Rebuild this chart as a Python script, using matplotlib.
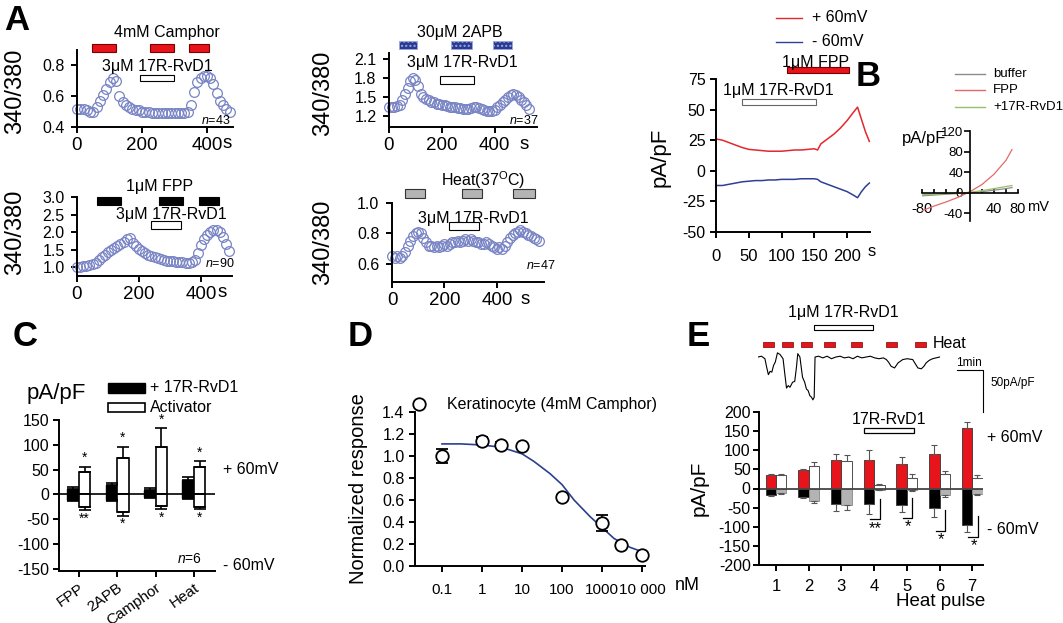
import numpy as np
import matplotlib.pyplot as plt
from matplotlib.patches import Rectangle
from matplotlib.lines import Line2D
from matplotlib.ticker import FormatStrFormatter

plt.rcParams['font.family'] = ['Liberation Sans', 'DejaVu Sans']
plt.rcParams['mathtext.fontset'] = 'custom'
plt.rcParams['mathtext.rm'] = 'Liberation Sans'
plt.rcParams['mathtext.it'] = 'Liberation Sans:italic'
plt.rcParams['axes.unicode_minus'] = False

W, H = 1063, 623

# ---------------- data ----------------
# A: 340/380 ratio traces, one sample every 10 s
a1_ratio = [0.52, 0.52, 0.52, 0.51, 0.50, 0.50, 0.53, 0.57, 0.61, 0.65,
            0.69, 0.72, 0.70, 0.60, 0.56, 0.54, 0.53, 0.52, 0.51, 0.51,
            0.50, 0.50, 0.50, 0.49, 0.49, 0.49, 0.49, 0.49, 0.49, 0.49,
            0.49, 0.49, 0.49, 0.49, 0.50, 0.54, 0.63, 0.69, 0.72, 0.73,
            0.73, 0.72, 0.68, 0.62, 0.57, 0.54, 0.52, 0.50]
a2_ratio = [1.35, 1.34, 1.35, 1.36, 1.38, 1.45, 1.55, 1.65, 1.75, 1.80,
            1.78, 1.68, 1.55, 1.50, 1.47, 1.45, 1.43, 1.42, 1.40, 1.39,
            1.38, 1.37, 1.36, 1.35, 1.34, 1.34, 1.33, 1.33, 1.32, 1.32,
            1.32, 1.33, 1.34, 1.35, 1.33, 1.31, 1.30, 1.29, 1.28, 1.28,
            1.30, 1.34, 1.38, 1.42, 1.46, 1.50, 1.53, 1.55, 1.53, 1.50,
            1.46, 1.42, 1.37, 1.32]
a3_ratio = [1.02, 1.02, 1.03, 1.04, 1.06, 1.09, 1.13, 1.20, 1.28, 1.35,
            1.42, 1.48, 1.54, 1.60, 1.65, 1.72, 1.80, 1.82, 1.70, 1.60,
            1.52, 1.46, 1.40, 1.35, 1.31, 1.28, 1.25, 1.23, 1.21, 1.19,
            1.18, 1.17, 1.16, 1.15, 1.14, 1.13, 1.13, 1.14, 1.20, 1.40,
            1.62, 1.80, 1.92, 2.00, 2.05, 2.05, 2.00, 1.85, 1.65, 1.45]
a4_ratio = [0.65, 0.64, 0.65, 0.64, 0.65, 0.68, 0.72, 0.75, 0.78, 0.80,
            0.81, 0.80, 0.77, 0.74, 0.72, 0.72, 0.71, 0.72, 0.71, 0.72,
            0.73, 0.72, 0.73, 0.74, 0.74, 0.75, 0.74, 0.75, 0.76, 0.75,
            0.76, 0.75, 0.74, 0.74, 0.73, 0.73, 0.74, 0.73, 0.72, 0.71,
            0.70, 0.71, 0.70, 0.72, 0.74, 0.77, 0.79, 0.80, 0.81, 0.82,
            0.81, 0.80, 0.79, 0.78, 0.77, 0.76, 0.75]
a1_stim = [(45, 121), (224, 297), (345, 406)]   # camphor
a2_stim = [(38, 105), (234, 313), (392, 464)]   # 2APB
a3_stim = [(65, 142), (265, 342), (394, 458)]   # FPP
a4_stim = [(50, 126), (267, 343), (461, 545)]   # heat
a1_rvd, a2_rvd, a3_rvd, a4_rvd = (194, 297), (192, 321), (238, 335), (217, 331)

# B: whole-cell current at +/-60 mV
b_t = [0, 10, 20, 30, 40, 50, 60, 70, 80, 90, 100, 110, 120, 130, 140, 150,
       155, 160, 170, 180, 190, 200, 210, 216, 222, 228, 234]
b_pos = [26, 25, 23, 21, 19, 17.5, 17, 16.5, 16, 16, 16, 16.5, 17, 17, 17.5, 18,
         17, 22, 26, 30, 35, 41, 48, 52, 42, 32, 24]
b_neg = [-12, -12, -11, -10, -9, -8.5, -8, -8, -7.5, -7.5, -7, -7, -7, -6.5, -6.5, -6.5,
         -7, -9, -11, -13, -15, -17, -20, -22, -17, -13, -10]
b_fpp, b_rvd = (108, 203), (40, 153)
# B inset: I-V curves
iv_mv = [-80, -60, -40, -20, 0, 20, 40, 60, 70]
iv_buffer = [-6, -4.5, -3, -1.5, 0, 2, 5, 8, 10]
iv_fpp = [-35, -26, -18, -9, 2, 16, 36, 63, 84]
iv_rvd = [-4, -3, -2, -1, 1, 4, 8, 12, 14]

# C: current density summary
c_cats = ['FPP', '2APB', 'Camphor', 'Heat']
c_rvd_pos = [10, 18, 8, 28]
c_rvd_pos_err = [5, 4, 4, 7]
c_rvd_neg = [-11, -12, -6, -8]
c_rvd_neg_err = [3, 2, 2, 2]
c_act_pos = [44, 74, 96, 56]
c_act_pos_err = [12, 22, 37, 11]
c_act_neg = [-25, -35, -23, -25]
c_act_neg_err = [7, 8, 7, 5]
c_stars_pos = ['*', '*', '*', '*']
c_stars_neg = ['**', '*', '*', '*']

# D: dose response
d_conc = [0.027, 0.1, 1, 3, 10, 100, 1000, 3000, 10000]
d_resp = [1.47, 1.00, 1.14, 1.10, 1.09, 0.63, 0.39, 0.19, 0.10]
d_err = [0, 0.065, 0.03, 0.03, 0, 0.02, 0.075, 0.02, 0.02]
d_fit_x = [0.1, 0.3, 1, 3, 10, 20, 50, 100, 200, 500, 1000, 2000, 5000, 10000]
d_fit_y = [1.11, 1.11, 1.10, 1.08, 1.02, 0.95, 0.84, 0.74, 0.60, 0.45, 0.35, 0.25, 0.17, 0.13]

# E: heat pulses
e_pulse = [1, 2, 3, 4, 5, 6, 7]
e_heat_pos = [35, 48, 75, 75, 65, 90, 159]
e_heat_pos_err = [4, 4, 16, 26, 17, 24, 16]
e_rvd_pos = [35, 60, 73, 10, 27, 37, 27]
e_rvd_pos_err = [4, 10, 15, 2, 10, 8, 9]
e_heat_neg = [-18, -22, -40, -40, -43, -52, -96]
e_heat_neg_err = [2, 4, 18, 26, 19, 23, 17]
e_rvd_neg = [-13, -32, -42, -4, -5, -18, -15]
e_rvd_neg_err = [2, 5, 13, 1, 2, 4, 3]
e_sig_pulse = [4, 5, 6, 7]
e_sig_top = [-28, -26, -55, -73]
e_sig_bot = [-81, -78, -110, -128]
e_sig_label = ['**', '*', '*', '*']
e_rvd_span = (3.69, 5.22)
# E: example trace (s, pA/pF)
tr_t = [0, 8, 16, 20, 24, 28, 32, 36, 40, 45, 51, 58, 62, 66, 70, 74, 80, 85, 89, 92,
        97, 103, 108, 112, 116, 120, 124, 127, 130, 132, 140, 150, 160, 170, 180, 190,
        200, 210, 220, 230, 240, 250, 260, 270, 280, 290, 297, 302, 308, 316, 324, 335,
        345, 358, 364, 370, 378, 384, 389, 396, 404, 412, 420]
tr_i = [0, 1, -2, -12, -21, -17, -18, -10, -6, 5, 3, -2, -20, -37, -34, -36, -30, -29, -12, 4,
        0, -24, -30, -38, -40, -46, -48, -51, -48, 0, 1, -1, 1, -2, 0, 1, -1, 0, -2, 1,
        -1, 0, 1, -1, -2, -1, -3, -6, -11, -13, -7, -3, -2, -3, -8, -13, -14, -11, -7, -4,
        -2, -1, 0]
tr_heat = [(12, 25), (55, 25), (99, 26), (152, 26), (215, 25), (296, 25), (363, 25)]
tr_rvd = (129, 137)

# ---------------- helpers ----------------
fig = plt.figure(figsize=(W / 100, H / 100), dpi=100)


def px_axes(l, t, r, b):
    return fig.add_axes([l / W, 1 - b / H, (r - l) / W, (b - t) / H])


def ftext(x, y, s, **kw):
    kw.setdefault('ha', 'center')
    kw.setdefault('va', 'center')
    fig.text(x / W, 1 - y / H, s, **kw)


def style(ax, lw=1.4, xs=11, ys=11):
    for s in ['top', 'right']:
        ax.spines[s].set_visible(False)
    for s in ['left', 'bottom']:
        ax.spines[s].set_linewidth(lw)
    ax.tick_params(width=lw, length=4)
    ax.tick_params(axis='x', labelsize=xs)
    ax.tick_params(axis='y', labelsize=ys)


def stim(ax, spans, yc, h, fc, ec='black', hatch=None, lw=0.8):
    tr = ax.get_xaxis_transform()
    for x0, x1 in spans:
        ax.add_patch(Rectangle((x0, yc - h / 2), x1 - x0, h, transform=tr, fc=fc,
                               ec=ec, lw=lw, hatch=hatch, clip_on=False))


def ratio_panel(box, vals, xlim, ylim, yticks):
    ax = px_axes(*box)
    t = np.arange(len(vals)) * 10
    ax.plot(t, vals, 'o', ms=7, mfc='none', mec='#7884c4', mew=0.9, clip_on=False)
    ax.set_xlim(*xlim)
    ax.set_ylim(*ylim)
    ax.set_yticks(yticks)
    ax.set_xticks([0, 200, 400])
    ax.yaxis.set_major_formatter(FormatStrFormatter('%.1f'))
    style(ax, xs=13.5, ys=11.5)
    ax.tick_params(axis='y', pad=5)
    return ax


# ---------------- panel A ----------------
ax = ratio_panel((77, 50, 233, 127), a1_ratio, (0, 480), (0.4, 0.9), [0.4, 0.6, 0.8])
stim(ax, a1_stim, 1.026, 0.104, '#e8141c', ec='#7a0000')
stim(ax, [a1_rvd], 0.636, 0.09, 'white')
ftext(167, 33, '4mM Camphor', fontsize=11.5)
ftext(157, 67, '3\u03bcM 17R-RvD1', fontsize=11.5)
ftext(231, 120, '$\\it{n}$=43', fontsize=9, ha='right')
ftext(227, 143, 's', fontsize=13.5)
ftext(15, 91, '340/380', fontsize=17, rotation=90)

ax = ratio_panel((389, 53, 537, 127), a2_ratio, (0, 560), (1.03, 2.2), [1.2, 1.5, 1.8, 2.1])
stim(ax, a2_stim, 1.108, 0.108, '#2a3a90', ec='#9aa8e0', hatch='....', lw=0.6)
stim(ax, [a2_rvd], 0.635, 0.095, 'white')
ftext(460, 33, '30\u03bcM 2APB', fontsize=11.5)
ftext(462, 62, '3\u03bcM 17R-RvD1', fontsize=11.5)
ftext(539, 121, '$\\it{n}$=37', fontsize=9, ha='right')
ftext(524, 145, 's', fontsize=13.5)
ftext(323, 93, '340/380', fontsize=17, rotation=90)

ax = ratio_panel((77, 197, 232, 276), a3_ratio, (0, 500), (0.75, 3.0), [1.0, 1.5, 2.0, 2.5, 3.0])
stim(ax, a3_stim, 0.95, 0.1, 'black')
stim(ax, [a3_rvd], 0.645, 0.1, 'white')
ftext(160, 187, '1\u03bcM FPP', fontsize=11.5)
ftext(171, 215, '3\u03bcM 17R-RvD1', fontsize=11.5)
ftext(235, 263, '$\\it{n}$=90', fontsize=9, ha='right')
ftext(222, 293, 's', fontsize=13.5)
ftext(15, 232, '340/380', fontsize=17, rotation=90)

ax = ratio_panel((392, 203, 544, 282), a4_ratio, (0, 580), (0.48, 1.0), [0.6, 0.8, 1.0])
stim(ax, a4_stim, 1.114, 0.114, '#b4b4b4', ec='#333333')
stim(ax, [a4_rvd], 0.709, 0.1, 'white')
ftext(441, 180, 'Heat(37$^\\mathregular{O}$C)', fontsize=11.5, ha='left')
ftext(473, 219, '3\u03bcM 17R-RvD1', fontsize=11.5)
ftext(556, 266, '$\\it{n}$=47', fontsize=9, ha='right')
ftext(525, 300, 's', fontsize=13.5)
ftext(323, 242, '340/380', fontsize=17, rotation=90)

# ---------------- panel B ----------------
axB = px_axes(716, 79, 870, 232)
axB.plot(b_t, b_pos, color='#e3272d', lw=1.1, clip_on=False)
axB.plot(b_t, b_neg, color='#2e3f95', lw=1.1, clip_on=False)
axB.set_xlim(0, 235)
axB.set_ylim(-50, 75)
axB.set_yticks([-50, -25, 0, 25, 50, 75])
axB.set_xticks([0, 50, 100, 150, 200])
style(axB, xs=12, ys=11.5)
axB.tick_params(axis='x', pad=8)
stim(axB, [b_fpp], 1.059, 0.042, '#e8141c', ec='#7a0000')
stim(axB, [b_rvd], 0.85, 0.045, 'white', ec='#666666')
ftext(816, 62, '1\u03bcM FPP', fontsize=11.5)
ftext(778, 91, '1\u03bcM 17R-RvD1', fontsize=11.5)
ftext(872, 252, 's', fontsize=12)
ftext(660, 157, 'pA/pF', fontsize=16, rotation=90)
for yy, col, lab in [(18, '#e3272d', '+ 60mV'), (42, '#2e3f95', '- 60mV')]:
    fig.add_artist(Line2D([776 / W, 802 / W], [1 - yy / H, 1 - yy / H], color=col, lw=1))
    ftext(812, yy, lab, fontsize=11.5, ha='left')

axI = px_axes(922, 131, 1018, 221)
axI.plot(iv_mv, iv_buffer, color='#8c8c8c', lw=0.9)
axI.plot(iv_mv, iv_fpp, color='#e46a6a', lw=0.9)
axI.plot(iv_mv, iv_rvd, color='#98be6c', lw=0.9)
axI.set_xlim(-80, 80)
axI.set_ylim(-55, 120)
for s in ['top', 'right']:
    axI.spines[s].set_visible(False)
axI.spines['left'].set_position(('data', 0))
axI.spines['bottom'].set_position(('data', 0))
for s in ['left', 'bottom']:
    axI.spines[s].set_linewidth(1.2)
axI.set_xticks([-80, -60, -40, -20, 20, 40, 60, 80])
axI.set_xticklabels(['-80', '', '', '', '', '40', '', '80'])
axI.set_yticks([-40, 0, 40, 80, 120])
axI.tick_params(axis='x', direction='in', length=3, width=1.2, labelsize=10.5, pad=7)
axI.tick_params(axis='y', direction='out', length=4, width=1.2, labelsize=9.5, pad=1)
ftext(946, 139, 'pA/pF', fontsize=12, ha='right')
ftext(1038, 207, 'mV', fontsize=10.5)
for yy, col, lab in [(74, '#8c8c8c', 'buffer'), (90, '#e46a6a', 'FPP'), (107, '#98be6c', '+17R-RvD1')]:
    fig.add_artist(Line2D([955 / W, 985 / W], [1 - yy / H, 1 - yy / H], color=col, lw=1))
    ftext(993, yy, lab, fontsize=9.5, ha='left')

# ---------------- panel C ----------------
axC = px_axes(59, 420, 215, 571)
xc = np.arange(len(c_cats))
bw = 0.3
ekw = dict(ecolor='black', elinewidth=1.2, capsize=4, capthick=1.2)
z4 = [0] * len(c_cats)
axC.bar(xc - bw / 2, c_rvd_pos, bw, color='black', edgecolor='black', lw=1,
        yerr=[z4, c_rvd_pos_err], error_kw=ekw)
axC.bar(xc - bw / 2, c_rvd_neg, bw, color='black', edgecolor='black', lw=1,
        yerr=[c_rvd_neg_err, z4], error_kw=ekw)
axC.bar(xc + bw / 2, c_act_pos, bw, color='white', edgecolor='black', lw=1.2,
        yerr=[z4, c_act_pos_err], error_kw=ekw)
axC.bar(xc + bw / 2, c_act_neg, bw, color='white', edgecolor='black', lw=1.2,
        yerr=[c_act_neg_err, z4], error_kw=ekw)
axC.axhline(0, color='black', lw=1.2)
for i in range(len(c_cats)):
    axC.text(xc[i] + bw / 2, c_act_pos[i] + c_act_pos_err[i] + 3, c_stars_pos[i],
             ha='center', va='bottom', fontsize=10)
    axC.text(xc[i] + bw / 2, c_act_neg[i] - c_act_neg_err[i] - 3, c_stars_neg[i],
             ha='center', va='top', fontsize=10)
axC.set_xlim(-0.52, 3.55)
axC.set_ylim(-155, 150)
axC.set_yticks([-150, -100, -50, 0, 50, 100, 150])
axC.set_xticks(xc)
axC.set_xticklabels(c_cats, rotation=35, ha='right', va='top', rotation_mode='anchor')
style(axC, xs=11, ys=11.5)
axC.tick_params(axis='y', pad=3)
axC.tick_params(axis='x', pad=3)
ftext(56, 394, 'pA/pF', fontsize=16)
fig.add_artist(Rectangle((108 / W, 1 - 393 / H), 37 / W, 10 / H, fc='black', ec='black',
                         transform=fig.transFigure))
fig.add_artist(Rectangle((108 / W, 1 - 412 / H), 37 / W, 9 / H, fc='white', ec='black',
                         lw=1.2, transform=fig.transFigure))
ftext(150, 388, '+ 17R-RvD1', fontsize=11.5, ha='left')
ftext(150, 408, 'Activator', fontsize=11.5, ha='left')
ftext(223, 469, '+ 60mV', fontsize=11.5, ha='left')
ftext(223, 565, '- 60mV', fontsize=11.5, ha='left')
ftext(202, 559, '$\\it{n}$=6', fontsize=10, ha='right')

# ---------------- panel D ----------------
axD = px_axes(415, 412, 645, 566)
axD.set_xscale('log')
axD.plot(d_fit_x, d_fit_y, color='#2b3f8f', lw=1.2)
eb = axD.errorbar(d_conc, d_resp, yerr=d_err, fmt='o', mfc='white', mec='black', ms=9,
                  mew=1.3, ecolor='black', elinewidth=1.2, capsize=4, capthick=1.2)
eb[0].set_clip_on(False)
axD.set_xlim(0.0211, 11885)
axD.set_ylim(0, 1.4)
axD.set_xticks([0.1, 1, 10, 100, 1000, 10000])
axD.set_xticklabels(['0.1', '1', '10', '100', '1000', '10 000'])
axD.xaxis.set_minor_locator(plt.NullLocator())
axD.set_yticks([0, 0.2, 0.4, 0.6, 0.8, 1.0, 1.2, 1.4])
axD.yaxis.set_major_formatter(FormatStrFormatter('%.1f'))
style(axD, xs=11, ys=11.5)
axD.tick_params(axis='x', pad=8)
ftext(447, 404, 'Keratinocyte (4mM Camphor)', fontsize=11.5, ha='left')
ftext(358, 489, 'Normalized response', fontsize=14.5, rotation=90)
ftext(675, 585, 'nM', fontsize=13, ha='left')

# ---------------- panel E ----------------
axE = px_axes(759, 412, 983, 565)
pe = np.array(e_pulse)
w = 0.32
z7 = [0] * len(e_pulse)
ekE = dict(ecolor='#555555', elinewidth=0.8, capsize=2, capthick=0.8)
axE.bar(pe - w / 2, e_heat_pos, w, color='#e8141c', edgecolor='#333333', lw=0.6,
        yerr=[z7, e_heat_pos_err], error_kw=ekE)
axE.bar(pe + w / 2, e_rvd_pos, w, color='white', edgecolor='#333333', lw=0.6,
        yerr=[z7, e_rvd_pos_err], error_kw=ekE)
axE.bar(pe - w / 2, e_heat_neg, w, color='black', edgecolor='#333333', lw=0.6,
        yerr=[e_heat_neg_err, z7], error_kw=ekE)
axE.bar(pe + w / 2, e_rvd_neg, w, color='#b3b3b3', edgecolor='#888888', lw=0.6,
        yerr=[e_rvd_neg_err, z7], error_kw=ekE)
axE.axhline(0, color='#444444', lw=1.3)
for p, top, bot, lab in zip(e_sig_pulse, e_sig_top, e_sig_bot, e_sig_label):
    axE.plot([p - 0.12, p + 0.17, p + 0.17], [bot, bot, top], color='black', lw=0.9)
    axE.text(p + 0.04, bot - 3, lab, ha='center', va='top', fontsize=12)
axE.add_patch(Rectangle((e_rvd_span[0], 146), e_rvd_span[1] - e_rvd_span[0], 12,
                        fc='white', ec='black', lw=0.9, clip_on=False))
axE.text(sum(e_rvd_span) / 2, 181, '17R-RvD1', ha='center', va='center', fontsize=11.5)
axE.set_xlim(0.48, 7.33)
axE.set_ylim(-200, 200)
axE.set_yticks(np.arange(-200, 201, 50))
axE.set_xticks(pe)
style(axE, xs=12, ys=11.5)
axE.tick_params(axis='y', pad=2)
axE.tick_params(axis='x', pad=6)
ftext(941, 602, 'Heat pulse', fontsize=13.5)
ftext(699, 488, 'pA/pF', fontsize=15, rotation=90)
ftext(987, 438, '+ 60mV', fontsize=11.5, ha='left')
ftext(987, 530, '- 60mV', fontsize=11.5, ha='left')

axT = px_axes(758, 305, 1000, 420)
axT.plot(tr_t, tr_i, color='black', lw=0.8)
axT.broken_barh(tr_heat, (12.5, 6), facecolors='#e8141c', edgecolors='#7a0000', lw=0.5)
axT.broken_barh([tr_rvd], (32.7, 6), facecolors='white', edgecolors='black', lw=0.8)
axT.plot([460, 520, 520], [-15.5, -15.5, -65.5], color='black', lw=0.8)
axT.set_xlim(0, 560)
axT.set_ylim(-75, 62)
axT.axis('off')
ftext(933, 344, 'Heat', fontsize=11.5, ha='left')
ftext(843, 313, '1\u03bcM 17R-RvD1', fontsize=11.5)
ftext(969, 363, '1min', fontsize=8.5)
ftext(990, 383, '50pA/pF', fontsize=8.5, ha='left')

# ---------------- panel letters ----------------
for lab, x, y in [('A', 17, 20), ('B', 868, 76), ('C', 25, 336), ('D', 360, 336), ('E', 698, 336)]:
    ftext(x, y, lab, fontsize=25, fontweight='bold')

fig.savefig('out.png', dpi=100)
